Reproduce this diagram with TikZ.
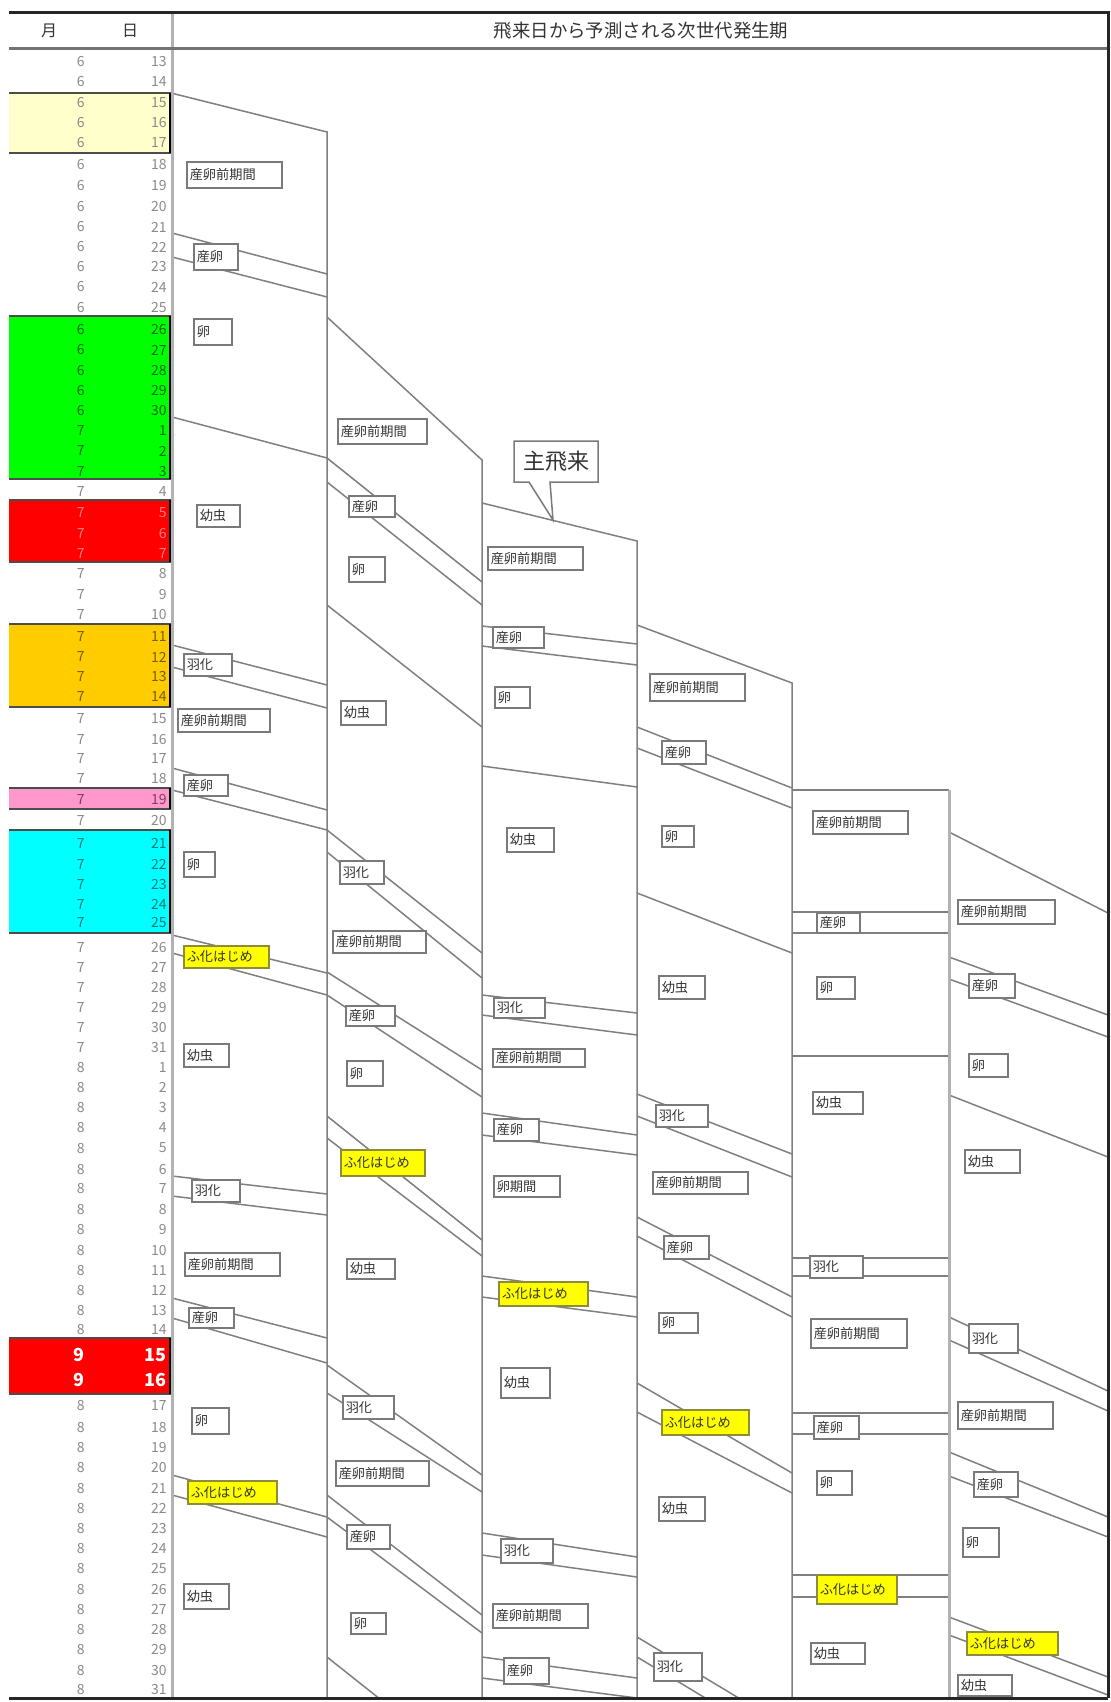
\documentclass[tikz,border=0pt]{standalone}
\usepackage{fontspec}
\setmainfont{Noto Sans CJK JP}
\definecolor{linegray}{HTML}{808080}
\definecolor{numgray}{HTML}{8A8A8A}
\definecolor{boxgray}{HTML}{7A7A7A}
\definecolor{lbltext}{HTML}{333333}
\definecolor{paleyel}{HTML}{FFFFCC}
\definecolor{rowgreen}{HTML}{00FF00}
\definecolor{rowred}{HTML}{FF0000}
\definecolor{roworange}{HTML}{FFCC00}
\definecolor{rowpink}{HTML}{FF99CC}
\definecolor{rowcyan}{HTML}{00FFFF}
\definecolor{hatchyel}{HTML}{FFFF00}
\definecolor{hatchline}{HTML}{8C8C3C}
\definecolor{gtxt}{HTML}{006A00}
\definecolor{rtxt}{HTML}{FF8080}
\definecolor{otxt}{HTML}{7A5C00}
\definecolor{ptxt}{HTML}{7F3F5F}
\definecolor{ctxt}{HTML}{007A7A}
\tikzset{
    stg/.style={draw=linegray, line width=0.75pt},
    sep/.style={draw=black!30, line width=1.5pt},
    rule/.style={draw=black!85, line width=1.5pt},
    rowedge/.style={draw=black!70, line width=1.1pt},
    stage/.style 2 args={draw=boxgray, fill=white, line width=0.75pt, anchor=north west,
        inner xsep=1.5pt, inner ysep=0pt, text width=#1*0.5pt-3pt, minimum height=#2*0.5pt,
        align=left, font=\fontsize{6.6}{7}\selectfont, text=lbltext},
    hatch/.style 2 args={stage={#1}{#2}, fill=hatchyel, draw=hatchline},
    num/.style={anchor=east, font=\fontsize{7}{8}\selectfont, inner sep=0pt},
    head/.style={font=\fontsize{8}{9}\selectfont, text=lbltext, inner sep=0pt},
}

\begin{document}
\begin{tikzpicture}[x=0.5pt,y=-0.5pt]
\useasboundingbox (0,0) rectangle (1110,1702);
\fill[white] (0,0) rectangle (1110,1702);

% highlighted dates
\foreach \t/\b/\c in {93/153/paleyel, 316/479/rowgreen, 500/562/rowred, 624/707/roworange,
    788/809/rowpink, 830/933/rowcyan, 1338/1394/rowred}{
  \fill[\c] (9,\t) rectangle (171,\b);
  \draw[rowedge] (9,\t) -- (171,\t);
  \draw[rowedge] (9,\b) -- (171,\b);
  \draw[black, line width=0.9pt] (170,\t) -- (170,\b);
}

% month / day column
\foreach \m/\d/\y/\c in {6/13/62/numgray, 6/14/82/numgray, 6/15/103/numgray, 6/16/123/numgray,
    6/17/143/numgray, 6/18/165/numgray, 6/19/186/numgray, 6/20/207/numgray, 6/21/227/numgray,
    6/22/247/numgray, 6/23/267/numgray, 6/24/287/numgray, 6/25/308/numgray,
    6/26/330/gtxt, 6/27/350/gtxt, 6/28/371/gtxt, 6/29/391/gtxt, 6/30/411/gtxt,
    7/1/431/gtxt, 7/2/451/gtxt, 7/3/472/gtxt, 7/4/492/numgray,
    7/5/513/rtxt, 7/6/534/rtxt, 7/7/554/rtxt,
    7/8/574/numgray, 7/9/595/numgray, 7/10/615/numgray,
    7/11/637/otxt, 7/12/657/otxt, 7/13/677/otxt, 7/14/697/otxt,
    7/15/719/numgray, 7/16/739/numgray, 7/17/759/numgray, 7/18/779/numgray,
    7/19/799/ptxt, 7/20/820/numgray,
    7/21/843/ctxt, 7/22/864/ctxt, 7/23/884/ctxt, 7/24/904/ctxt, 7/25/922/ctxt,
    7/26/947/numgray, 7/27/967/numgray, 7/28/987/numgray, 7/29/1007/numgray, 7/30/1027/numgray,
    7/31/1047/numgray, 8/1/1067/numgray, 8/2/1087/numgray, 8/3/1107/numgray, 8/4/1127/numgray,
    8/5/1148/numgray, 8/6/1169/numgray, 8/7/1188/numgray, 8/8/1209/numgray, 8/9/1229/numgray,
    8/10/1250/numgray, 8/11/1270/numgray, 8/12/1290/numgray, 8/13/1310/numgray, 8/14/1329/numgray,
    8/17/1405/numgray, 8/18/1427/numgray, 8/19/1447/numgray, 8/20/1467/numgray, 8/21/1488/numgray,
    8/22/1508/numgray, 8/23/1528/numgray, 8/24/1548/numgray, 8/25/1568/numgray, 8/26/1589/numgray,
    8/27/1609/numgray, 8/28/1629/numgray, 8/29/1649/numgray, 8/30/1670/numgray, 8/31/1689/numgray}{
  \node[num, text=\c] (m\m-\d) at (85,\y) {\m};
  \node[num, text=\c] (d\m-\d) at (167,\y) {\d};
}
\node[num, text=white, font=\fontsize{9}{10}\selectfont\bfseries] (m9-15) at (85,1355) {9};
\node[num, text=white, font=\fontsize{9}{10}\selectfont\bfseries] (d9-15) at (167,1355) {15};
\node[num, text=white, font=\fontsize{9}{10}\selectfont\bfseries] (m9-16) at (85,1380) {9};
\node[num, text=white, font=\fontsize{9}{10}\selectfont\bfseries] (d9-16) at (167,1380) {16};

\begin{scope}
\clip (0,13) rectangle (1110,1697);
% column outlines
\draw[stg] (171,93) -- (327,132) -- (327,1698);
\draw[stg] (327,317) -- (482,460) -- (482,1698);
\draw[stg] (482,503) -- (637,541) -- (637,1698);
\draw[stg] (637,625) -- (792,683) -- (792,1698);
\draw[stg] (792,790) -- (949,790);
\draw[stg] (949,832) -- (1108,913);
% stage limits
\foreach \a/\b in {233/274, 257/297, 417/458, 645/685, 667/708, 768/810, 790/830,
    935/973, 953/995, 1176/1194, 1196/1215, 1298/1338, 1318/1363, 1475/1517, 1495/1537}
  \draw[stg] (172,\a) -- (327,\b);
\foreach \a/\b in {458/582, 482/605, 605/727, 830/953, 852/978, 972/1070, 995/1097,
    1116/1240, 1138/1256, 1365/1475, 1393/1492, 1495/1615, 1517/1633, 1657/1780}
  \draw[stg] (327,\a) -- (482,\b);
\foreach \a/\b in {626/644, 646/665, 766/787, 995/1013, 1015/1035, 1113/1135, 1135/1155,
    1276/1297, 1297/1317, 1533/1557, 1555/1577, 1657/1678, 1678/1698}
  \draw[stg] (482,\a) -- (637,\b);
\foreach \a/\b in {727/788, 748/808, 893/953, 1094/1154, 1116/1177, 1217/1297, 1236/1317,
    1383/1473, 1412/1493, 1637/1730, 1657/1750}
  \draw[stg] (637,\a) -- (792,\b);
\foreach \a in {912, 933, 1056, 1258, 1276, 1413, 1434, 1575, 1597}
  \draw[stg] (792,\a) -- (949,\a);
\foreach \a/\b in {957/1015, 979/1037, 1095/1157, 1317/1391, 1340/1411, 1452/1517, 1476/1537,
    1617/1677, 1635/1695}
  \draw[stg] (949,\a) -- (1108,\b);
\end{scope}
\draw[sep] (949,790) -- (949,1698);

% first column
\node[stage={95}{26}] (c1a) at (186,161) {産卵前期間};
\node[stage={44}{26}] (c1b) at (193,243) {産卵};
\node[stage={38}{26}] (c1c) at (193,318) {卵};
\node[stage={43}{22}] (c1d) at (196,504) {幼虫};
\node[stage={48}{22}] (c1e) at (183,653) {羽化};
\node[stage={92}{23}] (c1f) at (177,708) {産卵前期間};
\node[stage={44}{21}] (c1g) at (183,774) {産卵};
\node[stage={31}{25}] (c1h) at (183,851) {卵};
\node[hatch={85}{22}] (c1i) at (183,945) {ふ化はじめ};
\node[stage={45}{23}] (c1j) at (183,1043) {幼虫};
\node[stage={48}{22}] (c1k) at (191,1179) {羽化};
\node[stage={95}{23}] (c1l) at (184,1252) {産卵前期間};
\node[stage={45}{20}] (c1m) at (188,1307) {産卵};
\node[stage={37}{26}] (c1n) at (191,1407) {卵};
\node[hatch={89}{23}] (c1o) at (187,1480) {ふ化はじめ};
\node[stage={45}{25}] (c1p) at (183,1583) {幼虫};
% second column
\node[stage={89}{25}] (c2a) at (337,418) {産卵前期間};
\node[stage={46}{21}] (c2b) at (348,495) {産卵};
\node[stage={36}{25}] (c2c) at (348,556) {卵};
\node[stage={45}{24}] (c2d) at (340,700) {幼虫};
\node[stage={44}{23}] (c2e) at (339,860) {羽化};
\node[stage={93}{22}] (c2f) at (332,930) {産卵前期間};
\node[stage={49}{20}] (c2g) at (345,1005) {産卵};
\node[stage={36}{25}] (c2h) at (346,1060) {卵};
\node[hatch={84}{26}] (c2i) at (340,1149) {ふ化はじめ};
\node[stage={48}{20}] (c2j) at (346,1258) {幼虫};
\node[stage={51}{23}] (c2k) at (342,1395) {羽化};
\node[stage={93}{25}] (c2l) at (335,1460) {産卵前期間};
\node[stage={43}{24}] (c2m) at (346,1524) {産卵};
\node[stage={35}{21}] (c2n) at (350,1612) {卵};
% third column
\node[stage={95}{23}] (c3a) at (487,546) {産卵前期間};
\node[stage={51}{21}] (c3b) at (492,626) {産卵};
\node[stage={35}{21}] (c3c) at (494,686) {卵};
\node[stage={47}{24}] (c3d) at (506,827) {幼虫};
\node[stage={51}{20}] (c3e) at (493,997) {羽化};
\node[stage={92}{18}] (c3f) at (492,1048) {産卵前期間};
\node[stage={45}{22}] (c3g) at (493,1118) {産卵};
\node[stage={66}{21}] (c3h) at (493,1175) {卵期間};
\node[hatch={89}{24}] (c3i) at (498,1281) {ふ化はじめ};
\node[stage={49}{30}] (c3j) at (500,1367) {幼虫};
\node[stage={52}{24}] (c3k) at (500,1538) {羽化};
\node[stage={95}{24}] (c3l) at (492,1603) {産卵前期間};
\node[stage={45}{26}] (c3m) at (503,1657) {産卵};
% fourth column
\node[stage={95}{27}] (c4a) at (649,673) {産卵前期間};
\node[stage={44}{23}] (c4b) at (661,740) {産卵};
\node[stage={32}{21}] (c4c) at (661,825) {卵};
\node[stage={46}{23}] (c4d) at (658,975) {幼虫};
\node[stage={52}{22}] (c4e) at (655,1104) {羽化};
\node[stage={95}{22}] (c4f) at (652,1171) {産卵前期間};
\node[stage={45}{23}] (c4g) at (663,1235) {産卵};
\node[stage={39}{20}] (c4h) at (658,1312) {卵};
\node[hatch={87}{25}] (c4i) at (661,1409) {ふ化はじめ};
\node[stage={46}{24}] (c4j) at (658,1496) {幼虫};
\node[stage={48}{28}] (c4k) at (653,1652) {羽化};
% fifth column
\node[stage={95}{23}] (c5a) at (812,810) {産卵前期間};
\node[stage={43}{20}] (c5b) at (816,912) {産卵};
\node[stage={38}{22}] (c5c) at (816,976) {卵};
\node[stage={50}{22}] (c5d) at (812,1091) {幼虫};
\node[stage={53}{22}] (c5e) at (809,1255) {羽化};
\node[stage={96}{29}] (c5f) at (810,1318) {産卵前期間};
\node[stage={45}{23}] (c5g) at (813,1415) {産卵};
\node[stage={35}{24}] (c5h) at (816,1470) {卵};
\node[hatch={80}{29}] (c5i) at (816,1574) {ふ化はじめ};
\node[stage={54}{21}] (c5j) at (810,1642) {幼虫};
% sixth column
\node[stage={97}{24}] (c6a) at (957,899) {産卵前期間};
\node[stage={46}{24}] (c6b) at (968,973) {産卵};
\node[stage={39}{23}] (c6c) at (968,1053) {卵};
\node[stage={55}{23}] (c6d) at (964,1149) {幼虫};
\node[stage={49}{29}] (c6e) at (968,1323) {羽化};
\node[stage={95}{27}] (c6f) at (957,1401) {産卵前期間};
\node[stage={44}{25}] (c6g) at (973,1471) {産卵};
\node[stage={36}{29}] (c6h) at (962,1527) {卵};
\node[hatch={91}{23}] (c6i) at (966,1631) {ふ化はじめ};
\node[stage={54}{21}] (c6j) at (957,1674) {幼虫};

% main arrival callout
\filldraw[draw=boxgray, fill=white, line width=0.75pt] (514,441) -- (598,441) -- (598,482)
  -- (550,482) -- (553,520) -- (529,482) -- (514,482) -- cycle;
\node[font=\fontsize{11}{12}\selectfont, text=lbltext] (arrival) at (556,461) {主飛来};

% header and frame
\node[head] (month) at (49,31) {月};
\node[head] (day) at (130,31) {日};
\node[head, font=\fontsize{9.2}{10}\selectfont] (title) at (641,31) {飛来日から予測される次世代発生期};
\draw[sep] (172,13) -- (172,1698);
\draw[draw=black!55, line width=1.5pt] (9,49) -- (1108,49);
\draw[rule] (9,13) -- (1108,13) -- (1108,1698);
\draw[rule] (9,1698) -- (1108,1698);
\end{tikzpicture}
\end{document}
